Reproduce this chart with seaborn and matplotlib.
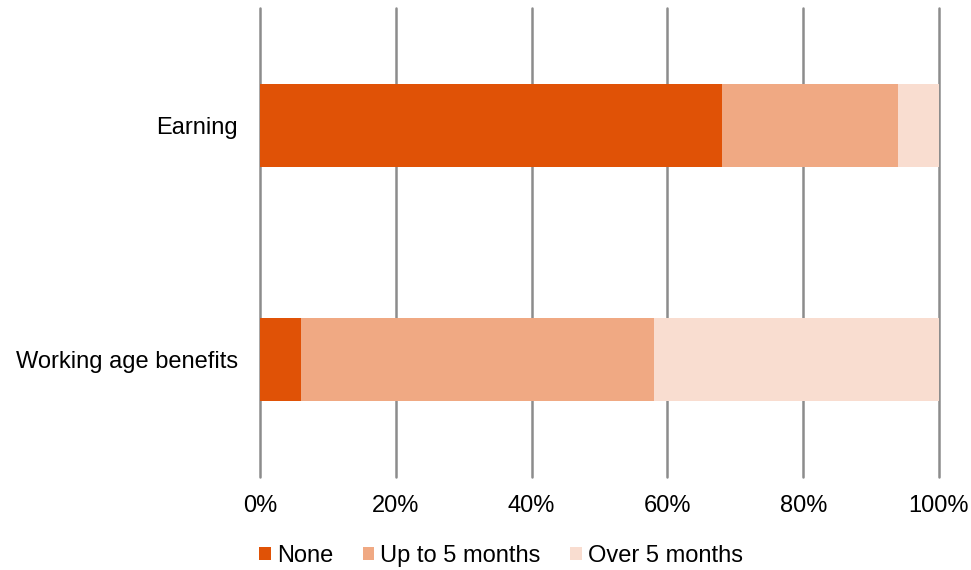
import matplotlib
matplotlib.use("Agg")
import matplotlib.pyplot as plt
import seaborn as sns
import pandas as pd
import numpy as np
from matplotlib.patches import Patch

categories = ["Earning", "Working age benefits"]
none_vals = [68, 6]
upto5_vals = [26, 52]
over5_vals = [6, 42]
series_names = ["None", "Up to 5 months", "Over 5 months"]
colors = ["#E05206", "#F0A983", "#F9DDD0"]
xticks = [0, 20, 40, 60, 80, 100]
xtick_labels = ["0%", "20%", "40%", "60%", "80%", "100%"]

sns.set_theme(style="white")
plt.rcParams['font.family'] = ['Liberation Sans', 'DejaVu Sans']
plt.rcParams['text.color'] = 'black'

df = pd.DataFrame({
    "cat": categories,
    "none": none_vals,
    "upto": upto5_vals,
    "over": over5_vals,
})
df["c1"] = df["none"]
df["c2"] = df["none"] + df["upto"]
df["c3"] = df["none"] + df["upto"] + df["over"]

fig = plt.figure(figsize=(9.71, 5.70), dpi=100)
ax = fig.add_axes([260/971, 1 - 477/570, 679/971, 469/570])

for col, c in zip(["c3", "c2", "c1"], colors[::-1]):
    sns.barplot(data=df, y="cat", x=col, orient="h", color=c, width=0.355,
                ax=ax, saturation=1, errorbar=None, zorder=3, linewidth=0,
                edgecolor="none")

ax.set_xlim(0, 100)
ax.set_xticks(xticks)
ax.set_xticklabels(xtick_labels, fontsize=17, color="black")
ax.tick_params(axis="y", labelsize=17, colors="black", length=0, pad=16)
ax.tick_params(axis="x", length=0, pad=13)
ax.set_xlabel("")
ax.set_ylabel("")
for s in ax.spines.values():
    s.set_visible(False)
ax.grid(axis="x", color="#8c8c8c", linewidth=1.8, zorder=0)
ax.grid(axis="y", visible=False)
ax.set_axisbelow(True)
for gl in ax.get_xgridlines():
    gl.set_clip_on(False)

handles = [Patch(facecolor=c, edgecolor="none") for c in colors]
fig.legend(handles, series_names, loc="center", bbox_to_anchor=(501/971, 1 - 556/570),
           ncol=3, frameon=False, fontsize=17, handlelength=0.5, handleheight=0.5,
           handletextpad=0.25, columnspacing=1.25, labelcolor="black")

fig.savefig("out.png", dpi=100)
